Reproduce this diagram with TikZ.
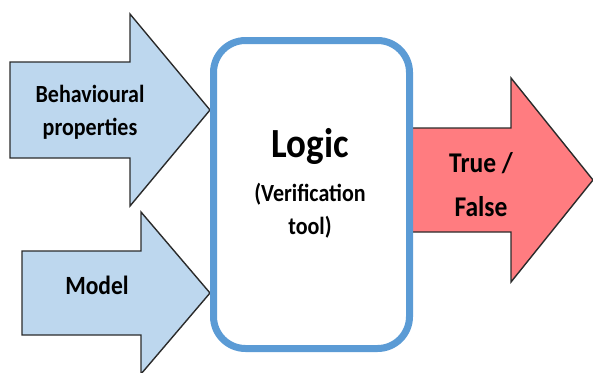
\documentclass[tikz,border=0pt]{standalone}
\usepackage{fontspec}
\setmainfont{Carlito}
\usepackage{graphicx}
\definecolor{arrowblue}{HTML}{BDD7EE}
\definecolor{arrowred}{HTML}{FF7C80}
\definecolor{boxblue}{HTML}{5B9BD5}
\definecolor{edgegray}{HTML}{2B2B2B}
\newcommand{\tallt}[1]{\scalebox{1}[1.12]{#1}}
\begin{document}
\begin{tikzpicture}[x=1pt,y=-1pt,
  arrowshape/.style={draw=edgegray,line width=1.4pt,line join=miter},
  lbl/.style={font=\bfseries\fontsize{22}{33}\selectfont,align=center,inner sep=0pt,text=black},
  outlbl/.style={font=\bfseries\fontsize{25.5}{44}\selectfont,align=center,inner sep=0pt,text=black},
  logicbox/.style={draw=boxblue,line width=7pt,fill=white,rounded corners=32pt}]
\useasboundingbox (0,0) rectangle (593,372);
\clip (0,0) rectangle (593,372);
% Behavioural properties arrow
\draw[arrowshape,fill=arrowblue] (10,62) -- (130,62) -- (130,14) -- (210,110) -- (130,206) -- (130,158) -- (10,158) -- cycle;
% Model arrow
\draw[arrowshape,fill=arrowblue] (22,251) -- (141,251) -- (141,212) -- (210,293) -- (141,374) -- (141,335) -- (22,335) -- cycle;
% True/False arrow
\draw[arrowshape,fill=arrowred] (410,128) -- (511,128) -- (511,78) -- (593,180) -- (511,282) -- (511,232) -- (410,232) -- cycle;
% Logic box
\node[logicbox,minimum width=196pt,minimum height=308pt] (logic) at (311.5,194.5) {};
% labels
\node[lbl] (beh) at (90,112) {\tallt{Behavioural}\\\tallt{properties}};
\node[lbl,font=\bfseries\fontsize{23.5}{33}\selectfont] (model) at (97,285) {\tallt{Model}};
\node[font=\bfseries\fontsize{37}{40}\selectfont,inner sep=0pt] (logictxt) at (310,146) {\tallt{Logic}};
\node[lbl] (vt) at (310,211) {\tallt{(Verification}\\\tallt{tool)}};
\node[outlbl] (tf) at (481,185) {\tallt{True /}\\\tallt{False}};
\end{tikzpicture}
\end{document}
